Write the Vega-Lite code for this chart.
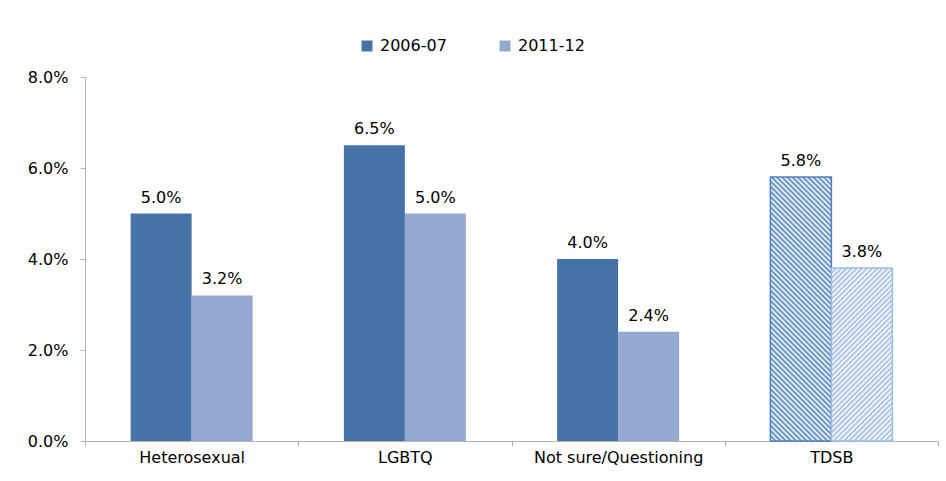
{
"$schema": "https://vega.github.io/schema/vega-lite/v6.json",
"width": 853,
"height": 364,
"autosize": {"type": "none"},
"padding": {"left": 85, "top": 77, "right": 8, "bottom": 40},
"background": "#ffffff",
"config": {"font": "DejaVu Sans", "view": {"stroke": null}},
"data": {"values": [
{"group": "Heterosexual", "year": "2006-07", "rate": 0.05},
{"group": "Heterosexual", "year": "2011-12", "rate": 0.032},
{"group": "LGBTQ", "year": "2006-07", "rate": 0.065},
{"group": "LGBTQ", "year": "2011-12", "rate": 0.05},
{"group": "Not sure/Questioning", "year": "2006-07", "rate": 0.04},
{"group": "Not sure/Questioning", "year": "2011-12", "rate": 0.024},
{"group": "TDSB", "year": "2006-07", "rate": 0.058},
{"group": "TDSB", "year": "2011-12", "rate": 0.038}
]},
"encoding": {
"x": {"field": "group", "type": "nominal", "sort": ["Heterosexual", "LGBTQ", "Not sure/Questioning", "TDSB"], "title": null,
 "scale": {"paddingInner": 0, "paddingOuter": 0},
 "axis": {"labelAngle": 0, "labelFont": "DejaVu Sans", "labelFontSize": 16, "labelColor": "#000000", "labelPadding": 3, "domainColor": "#b3b3b3", "tickColor": "#b3b3b3", "tickSize": 5, "tickBand": "extent", "grid": false}},
"xOffset": {"field": "year", "type": "nominal", "scale": {"paddingInner": 0, "paddingOuter": 0.748}},
"y": {"field": "rate", "type": "quantitative", "title": null,
 "scale": {"domain": [0, 0.08]},
 "axis": {"values": [0, 0.02, 0.04, 0.06, 0.08], "format": ".1%", "grid": false, "labelFont": "DejaVu Sans", "labelFontSize": 16, "labelColor": "#000000", "labelPadding": 12, "domainColor": "#b3b3b3", "tickColor": "#b3b3b3", "tickSize": 5}}
},
"layer": [
{"transform": [{"filter": "datum.group != 'TDSB'"}],
 "mark": {"type": "bar"},
 "encoding": {"color": {"field": "year", "type": "nominal",
  "scale": {"domain": ["2006-07", "2011-12"], "range": ["#4572a7", "#95a9d0"]},
  "legend": {"orient": "none", "legendX": 274, "legendY": -39, "direction": "horizontal", "title": null, "symbolType": "square", "symbolSize": 121, "symbolStrokeWidth": 0, "labelFont": "DejaVu Sans", "labelFontSize": 16, "labelColor": "#000000", "labelOffset": 5, "columnPadding": 50, "padding": 0}}}},
{"transform": [{"filter": "datum.group == 'TDSB' && datum.year == '2006-07'"}],
 "mark": {"type": "bar", "stroke": "#4f81bd", "strokeWidth": 1.5,
  "fill": {"gradient": "linear", "x1": 0, "y1": 1, "x2": 0.2702, "y2": -0.1688, "stops": [
{"offset":0,"color":"#4f81bd"},{"offset":0.008,"color":"#fff"},{"offset":0.016,"color":"#4f81bd"},{"offset":0.024,"color":"#fff"},{"offset":0.032,"color":"#4f81bd"},{"offset":0.04,"color":"#fff"},{"offset":0.048,"color":"#4f81bd"},{"offset":0.056,"color":"#fff"},{"offset":0.064,"color":"#4f81bd"},{"offset":0.072,"color":"#fff"},{"offset":0.08,"color":"#4f81bd"},{"offset":0.088,"color":"#fff"},{"offset":0.096,"color":"#4f81bd"},{"offset":0.104,"color":"#fff"},{"offset":0.112,"color":"#4f81bd"},{"offset":0.12,"color":"#fff"},{"offset":0.128,"color":"#4f81bd"},{"offset":0.136,"color":"#fff"},{"offset":0.144,"color":"#4f81bd"},{"offset":0.152,"color":"#fff"},{"offset":0.16,"color":"#4f81bd"},{"offset":0.168,"color":"#fff"},{"offset":0.176,"color":"#4f81bd"},{"offset":0.184,"color":"#fff"},{"offset":0.192,"color":"#4f81bd"},{"offset":0.2,"color":"#fff"},{"offset":0.208,"color":"#4f81bd"},{"offset":0.216,"color":"#fff"},{"offset":0.224,"color":"#4f81bd"},{"offset":0.232,"color":"#fff"},{"offset":0.24,"color":"#4f81bd"},{"offset":0.248,"color":"#fff"},{"offset":0.256,"color":"#4f81bd"},{"offset":0.264,"color":"#fff"},{"offset":0.272,"color":"#4f81bd"},{"offset":0.28,"color":"#fff"},{"offset":0.288,"color":"#4f81bd"},{"offset":0.296,"color":"#fff"},{"offset":0.304,"color":"#4f81bd"},{"offset":0.312,"color":"#fff"},{"offset":0.32,"color":"#4f81bd"},{"offset":0.328,"color":"#fff"},{"offset":0.336,"color":"#4f81bd"},{"offset":0.344,"color":"#fff"},{"offset":0.352,"color":"#4f81bd"},{"offset":0.36,"color":"#fff"},{"offset":0.368,"color":"#4f81bd"},{"offset":0.376,"color":"#fff"},{"offset":0.384,"color":"#4f81bd"},{"offset":0.392,"color":"#fff"},{"offset":0.4,"color":"#4f81bd"},{"offset":0.408,"color":"#fff"},{"offset":0.416,"color":"#4f81bd"},{"offset":0.424,"color":"#fff"},{"offset":0.432,"color":"#4f81bd"},{"offset":0.44,"color":"#fff"},{"offset":0.448,"color":"#4f81bd"},{"offset":0.456,"color":"#fff"},{"offset":0.464,"color":"#4f81bd"},{"offset":0.472,"color":"#fff"},{"offset":0.48,"color":"#4f81bd"},{"offset":0.488,"color":"#fff"},{"offset":0.496,"color":"#4f81bd"},{"offset":0.504,"color":"#fff"},{"offset":0.512,"color":"#4f81bd"},{"offset":0.52,"color":"#fff"},{"offset":0.528,"color":"#4f81bd"},{"offset":0.536,"color":"#fff"},{"offset":0.544,"color":"#4f81bd"},{"offset":0.552,"color":"#fff"},{"offset":0.56,"color":"#4f81bd"},{"offset":0.568,"color":"#fff"},{"offset":0.576,"color":"#4f81bd"},{"offset":0.584,"color":"#fff"},{"offset":0.592,"color":"#4f81bd"},{"offset":0.6,"color":"#fff"},{"offset":0.608,"color":"#4f81bd"},{"offset":0.616,"color":"#fff"},{"offset":0.624,"color":"#4f81bd"},{"offset":0.632,"color":"#fff"},{"offset":0.64,"color":"#4f81bd"},{"offset":0.648,"color":"#fff"},{"offset":0.656,"color":"#4f81bd"},{"offset":0.664,"color":"#fff"},{"offset":0.672,"color":"#4f81bd"},{"offset":0.68,"color":"#fff"},{"offset":0.688,"color":"#4f81bd"},{"offset":0.696,"color":"#fff"},{"offset":0.704,"color":"#4f81bd"},{"offset":0.712,"color":"#fff"},{"offset":0.72,"color":"#4f81bd"},{"offset":0.728,"color":"#fff"},{"offset":0.736,"color":"#4f81bd"},{"offset":0.744,"color":"#fff"},{"offset":0.752,"color":"#4f81bd"},{"offset":0.76,"color":"#fff"},{"offset":0.768,"color":"#4f81bd"},{"offset":0.776,"color":"#fff"},{"offset":0.784,"color":"#4f81bd"},{"offset":0.792,"color":"#fff"},{"offset":0.8,"color":"#4f81bd"},{"offset":0.808,"color":"#fff"},{"offset":0.816,"color":"#4f81bd"},{"offset":0.824,"color":"#fff"},{"offset":0.832,"color":"#4f81bd"},{"offset":0.84,"color":"#fff"},{"offset":0.848,"color":"#4f81bd"},{"offset":0.856,"color":"#fff"},{"offset":0.864,"color":"#4f81bd"},{"offset":0.872,"color":"#fff"},{"offset":0.88,"color":"#4f81bd"},{"offset":0.888,"color":"#fff"},{"offset":0.896,"color":"#4f81bd"},{"offset":0.904,"color":"#fff"},{"offset":0.912,"color":"#4f81bd"},{"offset":0.92,"color":"#fff"},{"offset":0.928,"color":"#4f81bd"},{"offset":0.936,"color":"#fff"},{"offset":0.944,"color":"#4f81bd"},{"offset":0.952,"color":"#fff"},{"offset":0.96,"color":"#4f81bd"},{"offset":0.968,"color":"#fff"},{"offset":0.976,"color":"#4f81bd"},{"offset":0.984,"color":"#fff"},{"offset":0.992,"color":"#4f81bd"},{"offset":1,"color":"#fff"}
  ]}}},
{"transform": [{"filter": "datum.group == 'TDSB' && datum.year == '2011-12'"}],
 "mark": {"type": "bar", "stroke": "#9ebbe2", "strokeWidth": 1.5,
  "fill": {"gradient": "linear", "x1": 0, "y1": 0, "x2": 0.4245, "y2": 1.203, "stops": [
{"offset":0,"color":"#9ebbe2"},{"offset":0.011,"color":"#fff"},{"offset":0.022,"color":"#9ebbe2"},{"offset":0.033,"color":"#fff"},{"offset":0.044,"color":"#9ebbe2"},{"offset":0.055,"color":"#fff"},{"offset":0.066,"color":"#9ebbe2"},{"offset":0.077,"color":"#fff"},{"offset":0.088,"color":"#9ebbe2"},{"offset":0.099,"color":"#fff"},{"offset":0.11,"color":"#9ebbe2"},{"offset":0.121,"color":"#fff"},{"offset":0.132,"color":"#9ebbe2"},{"offset":0.143,"color":"#fff"},{"offset":0.154,"color":"#9ebbe2"},{"offset":0.165,"color":"#fff"},{"offset":0.176,"color":"#9ebbe2"},{"offset":0.187,"color":"#fff"},{"offset":0.198,"color":"#9ebbe2"},{"offset":0.209,"color":"#fff"},{"offset":0.22,"color":"#9ebbe2"},{"offset":0.231,"color":"#fff"},{"offset":0.242,"color":"#9ebbe2"},{"offset":0.253,"color":"#fff"},{"offset":0.264,"color":"#9ebbe2"},{"offset":0.275,"color":"#fff"},{"offset":0.286,"color":"#9ebbe2"},{"offset":0.297,"color":"#fff"},{"offset":0.308,"color":"#9ebbe2"},{"offset":0.319,"color":"#fff"},{"offset":0.33,"color":"#9ebbe2"},{"offset":0.341,"color":"#fff"},{"offset":0.352,"color":"#9ebbe2"},{"offset":0.363,"color":"#fff"},{"offset":0.374,"color":"#9ebbe2"},{"offset":0.385,"color":"#fff"},{"offset":0.396,"color":"#9ebbe2"},{"offset":0.407,"color":"#fff"},{"offset":0.418,"color":"#9ebbe2"},{"offset":0.429,"color":"#fff"},{"offset":0.44,"color":"#9ebbe2"},{"offset":0.451,"color":"#fff"},{"offset":0.462,"color":"#9ebbe2"},{"offset":0.473,"color":"#fff"},{"offset":0.484,"color":"#9ebbe2"},{"offset":0.495,"color":"#fff"},{"offset":0.506,"color":"#9ebbe2"},{"offset":0.517,"color":"#fff"},{"offset":0.528,"color":"#9ebbe2"},{"offset":0.539,"color":"#fff"},{"offset":0.55,"color":"#9ebbe2"},{"offset":0.561,"color":"#fff"},{"offset":0.572,"color":"#9ebbe2"},{"offset":0.583,"color":"#fff"},{"offset":0.594,"color":"#9ebbe2"},{"offset":0.605,"color":"#fff"},{"offset":0.616,"color":"#9ebbe2"},{"offset":0.627,"color":"#fff"},{"offset":0.638,"color":"#9ebbe2"},{"offset":0.649,"color":"#fff"},{"offset":0.66,"color":"#9ebbe2"},{"offset":0.671,"color":"#fff"},{"offset":0.682,"color":"#9ebbe2"},{"offset":0.693,"color":"#fff"},{"offset":0.704,"color":"#9ebbe2"},{"offset":0.715,"color":"#fff"},{"offset":0.726,"color":"#9ebbe2"},{"offset":0.737,"color":"#fff"},{"offset":0.748,"color":"#9ebbe2"},{"offset":0.759,"color":"#fff"},{"offset":0.77,"color":"#9ebbe2"},{"offset":0.781,"color":"#fff"},{"offset":0.792,"color":"#9ebbe2"},{"offset":0.803,"color":"#fff"},{"offset":0.814,"color":"#9ebbe2"},{"offset":0.825,"color":"#fff"},{"offset":0.836,"color":"#9ebbe2"},{"offset":0.847,"color":"#fff"},{"offset":0.858,"color":"#9ebbe2"},{"offset":0.869,"color":"#fff"},{"offset":0.88,"color":"#9ebbe2"},{"offset":0.891,"color":"#fff"},{"offset":0.902,"color":"#9ebbe2"},{"offset":0.913,"color":"#fff"},{"offset":0.924,"color":"#9ebbe2"},{"offset":0.935,"color":"#fff"},{"offset":0.946,"color":"#9ebbe2"},{"offset":0.957,"color":"#fff"},{"offset":0.968,"color":"#9ebbe2"},{"offset":0.979,"color":"#fff"},{"offset":0.99,"color":"#9ebbe2"}
  ]}}},
{"mark": {"type": "text", "baseline": "alphabetic", "dy": -11, "font": "DejaVu Sans", "fontSize": 16, "color": "#000000"},
 "encoding": {"text": {"field": "rate", "type": "quantitative", "format": ".1%"}}}
]
}
